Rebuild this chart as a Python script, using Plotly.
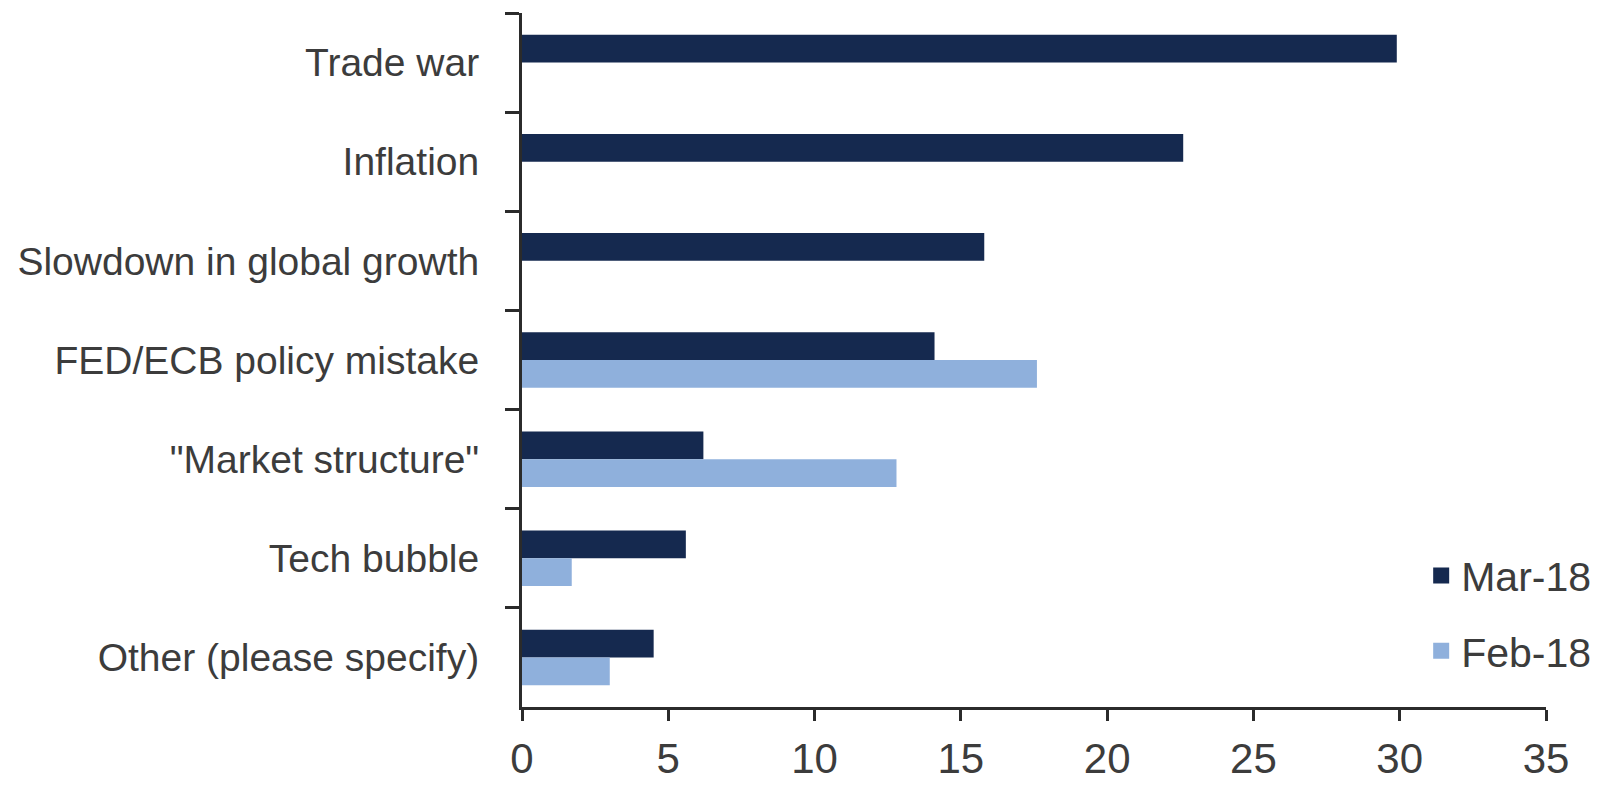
import plotly.graph_objects as go

# Survey: biggest tail risk, share of respondents (%)
categories = [
    "Trade war",
    "Inflation",
    "Slowdown in global growth",
    "FED/ECB policy mistake",
    "\"Market structure\"",
    "Tech bubble",
    "Other (please specify)",
]
mar_18 = [29.9, 22.6, 15.8, 14.1, 6.2, 5.6, 4.5]
feb_18 = [None, None, None, 17.6, 12.8, 1.7, 3.0]
x_ticks = [0, 5, 10, 15, 20, 25, 30, 35]

DARK = "#15294f"
LIGHT = "#8fb0dc"
TEXT = "#3c3c3c"
AXIS = "#2b2b2b"
FONT = "Liberation Sans, Arial, sans-serif"

fig = go.Figure()
fig.add_trace(go.Bar(y=categories, x=mar_18, orientation="h", name="Mar-18",
                     marker=dict(color=DARK, line=dict(width=0)), showlegend=False))
fig.add_trace(go.Bar(y=categories, x=feb_18, orientation="h", name="Feb-18",
                     marker=dict(color=LIGHT, line=dict(width=0)), showlegend=False))

# legend entries as square swatches
for name, color, grp in [("Mar-18", DARK, "a"), ("Feb-18", LIGHT, "b")]:
    fig.add_trace(go.Scatter(x=[None], y=[None], mode="markers", name=name,
                             legendgroup=grp,
                             marker=dict(symbol="square", size=22, color=color)))

fig.update_layout(
    width=1598, height=785,
    margin=dict(l=522, r=52, t=13, b=78, autoexpand=False),
    paper_bgcolor="white", plot_bgcolor="white",
    barmode="group", bargap=0.44, bargroupgap=0,
    font=dict(family=FONT, color=TEXT, size=39),
    legend=dict(x=1.049, xanchor="right", y=0.135, yanchor="middle",
                font=dict(size=41, color=TEXT), bgcolor="rgba(0,0,0,0)",
                traceorder="grouped", tracegroupgap=19, itemwidth=30),
)
fig.update_xaxes(
    range=[0, 35], tickvals=x_ticks, ticktext=[str(v) for v in x_ticks],
    showgrid=False, zeroline=False, showline=True, linecolor=AXIS, linewidth=3,
    ticks="outside", ticklen=11, tickwidth=3, tickcolor=AXIS, automargin=False,
    tickfont=dict(size=42, color=TEXT), ticklabelstandoff=2,
)
fig.update_yaxes(
    type="category", autorange="reversed", categoryorder="array", categoryarray=categories,
    showgrid=False, zeroline=False, showline=True, linecolor=AXIS, linewidth=3,
    ticks="outside", tickson="boundaries", ticklen=14, tickwidth=3, tickcolor=AXIS,
    automargin=False, tickfont=dict(size=39, color=TEXT), ticklabelstandoff=32,
)

fig.write_html("out.html")
